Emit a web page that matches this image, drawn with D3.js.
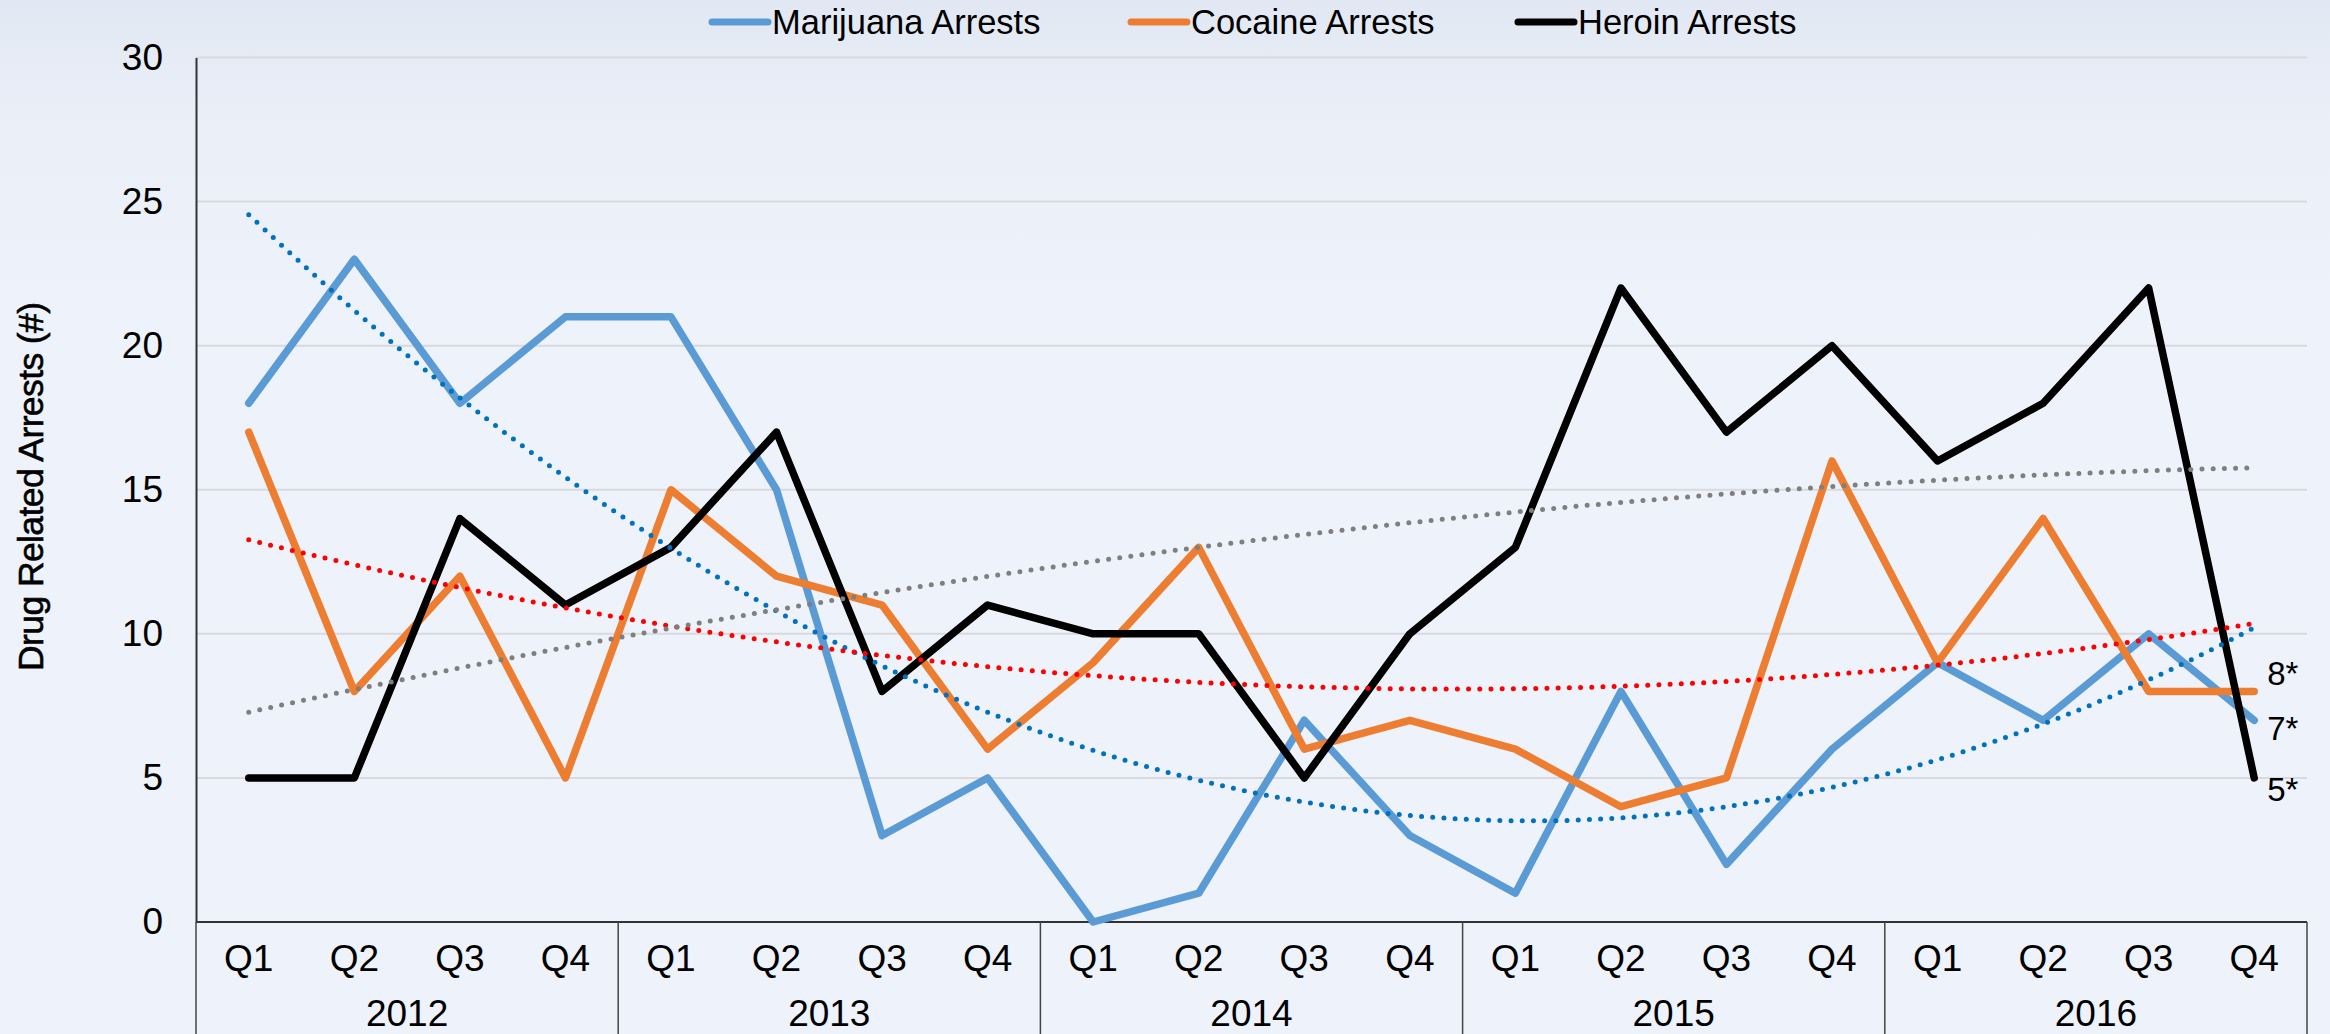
<!DOCTYPE html>
<html>
<head>
<meta charset="utf-8">
<script src="https://cdn.jsdelivr.net/npm/d3@7"></script>
<style>
  html, body { margin: 0; padding: 0; background: #EEF2FA; }
  svg { display: block; }
  text { font-family: "Liberation Sans", Arial, sans-serif; fill: #000; }
</style>
</head>
<body>
<svg id="chart" width="2330" height="1034"></svg>
<script>
// ---- data ----
const years = ["2012", "2013", "2014", "2015", "2016"];
const quarters = ["Q1", "Q2", "Q3", "Q4"];
const marijuana = [18, 23, 18, 21, 21, 15, 3, 5, 0, 1, 7, 3, 1, 8, 2, 6, 9, 7, 10, 7];
const cocaine   = [17, 8, 12, 5, 15, 12, 11, 6, 9, 13, 6, 7, 6, 4, 5, 16, 9, 14, 8, 8];
const heroin    = [5, 5, 14, 11, 13, 17, 8, 11, 10, 10, 5, 10, 13, 22, 17, 20, 16, 18, 22, 5];
const yTicks = [0, 5, 10, 15, 20, 25, 30];
const seriesNames = ["Marijuana Arrests", "Cocaine Arrests", "Heroin Arrests"];
const endLabels = ["7*", "8*", "5*"];

// ---- styles ----
const seriesColors = ["#5B9BD5", "#ED7D31", "#000000"];
const trendColors = ["#0070C0", "#FF0000", "#7F7F7F"];

(function () {
const svg = d3.select("#chart");
const W = 2330, H = 1034;
const mLeft = 196, mRight = 2307, mTop = 57.5, mBottom = 922;

// background gradient
const defs = svg.append("defs");
const grad = defs.append("linearGradient").attr("id", "bg").attr("x1", 0).attr("y1", 0).attr("x2", 0).attr("y2", 1);
grad.append("stop").attr("offset", "0%").attr("stop-color", "#E2E8F3");
grad.append("stop").attr("offset", "12%").attr("stop-color", "#EAEFF8");
grad.append("stop").attr("offset", "30%").attr("stop-color", "#EEF2FA");
grad.append("stop").attr("offset", "100%").attr("stop-color", "#EEF2FA");
svg.append("rect").attr("width", W).attr("height", H).attr("fill", "url(#bg)");

const categories = [];
years.forEach(yr => quarters.forEach(q => categories.push(yr + "-" + q)));

const x = d3.scaleBand().domain(categories).range([mLeft, mRight]).padding(0);
const y = d3.scaleLinear().domain([0, 30]).range([mBottom, mTop]);
const cx = i => x(categories[i]) + x.bandwidth() / 2;

// gridlines
svg.append("g").selectAll("line").data(yTicks.filter(t => t > 0)).join("line")
  .attr("x1", mLeft).attr("x2", mRight)
  .attr("y1", d => y(d)).attr("y2", d => y(d))
  .attr("stroke", "#D9D9DE").attr("stroke-width", 2);

// y axis
const yAxis = d3.axisLeft(y).tickValues(yTicks).tickSize(0).tickPadding(33);
const gy = svg.append("g").attr("transform", `translate(${mLeft},0)`).call(yAxis);
gy.select(".domain").attr("stroke", "#333").attr("stroke-width", 2);
gy.selectAll("text").attr("font-size", 37).attr("font-family", "Liberation Sans, Arial, sans-serif").attr("fill", "#000");

// y title
svg.append("text")
  .attr("transform", `translate(43,${(mTop + mBottom) / 2 - 3}) rotate(-90)`)
  .attr("text-anchor", "middle")
  .attr("font-size", 35.5).attr("letter-spacing", -0.6)
  .attr("stroke", "#000").attr("stroke-width", 0.6)
  .text("Drug Related Arrests (#)");

// category axis (multi-level)
const catG = svg.append("g");
catG.append("line").attr("x1", mLeft).attr("x2", mRight).attr("y1", mBottom).attr("y2", mBottom)
  .attr("stroke", "#333").attr("stroke-width", 2);
catG.selectAll("text.q").data(categories).join("text").attr("class", "q")
  .attr("x", (d, i) => cx(i)).attr("y", 971)
  .attr("text-anchor", "middle").attr("font-size", 37)
  .text(d => d.split("-")[1]);
const yearBand = d3.scaleBand().domain(years).range([mLeft, mRight]).padding(0);
catG.selectAll("text.yr").data(years).join("text").attr("class", "yr")
  .attr("x", d => yearBand(d) + yearBand.bandwidth() / 2).attr("y", 1026)
  .attr("text-anchor", "middle").attr("font-size", 37)
  .text(d => d);
const seps = years.map(d => yearBand(d)).concat([mRight]);
catG.selectAll("line.sep").data(seps).join("line").attr("class", "sep")
  .attr("x1", d => d).attr("x2", d => d).attr("y1", mBottom).attr("y2", H)
  .attr("stroke", "#444").attr("stroke-width", 1.5);

// series lines
const allSeries = [marijuana, cocaine, heroin];
const line = d3.line().x((d, i) => cx(i)).y(d => y(d));
allSeries.forEach((s, k) => {
  svg.append("path").datum(s).attr("d", line)
    .attr("fill", "none").attr("stroke", seriesColors[k]).attr("stroke-width", 7.5)
    .attr("stroke-linejoin", "round").attr("stroke-linecap", "round");
});

// polynomial (order 2) trendlines, least squares fit of each series
function quadFit(vals) {
  let s = [0, 0, 0, 0, 0], t = [0, 0, 0];
  vals.forEach((v, i) => {
    const xi = i + 1;
    for (let p = 0; p <= 4; p++) s[p] += Math.pow(xi, p);
    for (let p = 0; p <= 2; p++) t[p] += v * Math.pow(xi, p);
  });
  const A = [[s[0], s[1], s[2], t[0]], [s[1], s[2], s[3], t[1]], [s[2], s[3], s[4], t[2]]];
  for (let c = 0; c < 3; c++) {
    for (let r = c + 1; r < 3; r++) {
      const f = A[r][c] / A[c][c];
      for (let k = c; k < 4; k++) A[r][k] -= f * A[c][k];
    }
  }
  const b = [0, 0, 0];
  for (let r = 2; r >= 0; r--) {
    let sum = A[r][3];
    for (let k = r + 1; k < 3; k++) sum -= A[r][k] * b[k];
    b[r] = sum / A[r][r];
  }
  return xi => b[0] + b[1] * xi + b[2] * xi * xi;
}
const xCont = d3.scaleLinear().domain([1, categories.length]).range([cx(0), cx(categories.length - 1)]);
allSeries.forEach((s, k) => {
  const f = quadFit(s);
  const pts = d3.range(1, categories.length + 0.001, 0.05).map(xi => [xCont(xi), y(f(xi))]);
  svg.append("path").attr("d", d3.line()(pts))
    .attr("fill", "none").attr("stroke", trendColors[k]).attr("stroke-width", 5)
    .attr("stroke-linecap", "round").attr("stroke-dasharray", "0 11.2");
});

// end labels
const labelShift = [8, -18, 12];
allSeries.forEach((s, k) => {
  const last = s.length - 1;
  svg.append("text").attr("x", cx(last) + 13).attr("y", y(s[last]) + labelShift[k])
    .attr("dominant-baseline", "central").attr("font-size", 33)
    .text(endLabels[k]);
});

// legend
const legendX = [712, 1131, 1518];
seriesNames.forEach((name, k) => {
  const g = svg.append("g").attr("transform", `translate(${legendX[k]},22)`);
  g.append("line").attr("x1", 0).attr("x2", 56).attr("y1", 0).attr("y2", 0)
    .attr("stroke", seriesColors[k]).attr("stroke-width", 7).attr("stroke-linecap", "round");
  g.append("text").attr("x", 60).attr("y", 0).attr("dominant-baseline", "central")
    .attr("font-size", 34.5).text(name);
});
})();
</script>
</body>
</html>
